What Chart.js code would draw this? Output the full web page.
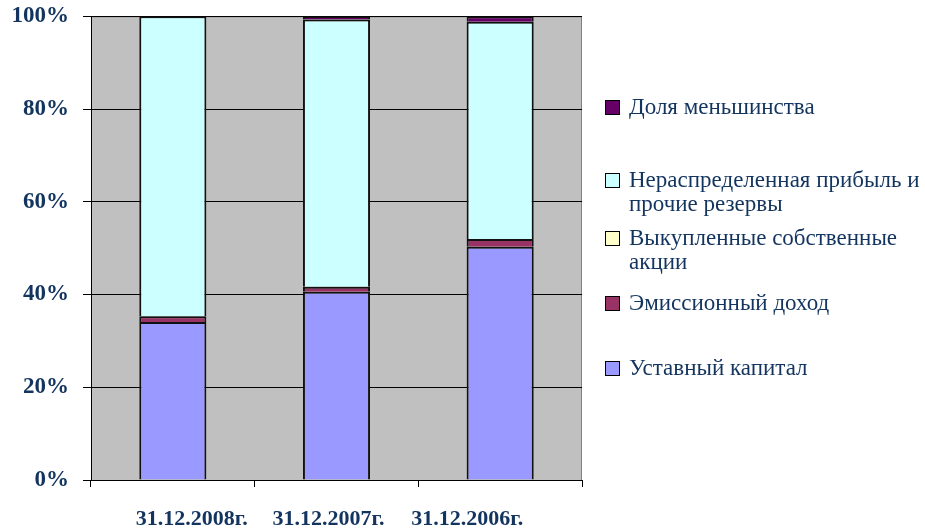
<!DOCTYPE html>
<html>
<head>
<meta charset="utf-8">
<script src="https://cdn.jsdelivr.net/npm/chart.js@4/dist/chart.umd.min.js"></script>
<style>
  body { margin: 0; background: #fff; }
  #wrap { position: relative; width: 925px; height: 529px; }
  #legend { position: absolute; left: 605px; top: 0; font-family: "Liberation Serif", serif; font-size: 23px; color: #12345e; }
  .item { position: absolute; left: 0; width: 320px; line-height: 24px; }
  .box { position: absolute; left: 0; top: 5px; width: 13px; height: 13px; border: 1px solid #000; }
  .txt { position: absolute; left: 24px; white-space: nowrap; }
</style>
</head>
<body>
<div id="wrap">
  <canvas id="c" width="925" height="529"></canvas>
  <div id="legend"></div>
</div>
<script>
// данные
const categories = ["31.12.2008г.", "31.12.2007г.", "31.12.2006г."];
const seriesNames = [
    "Уставный капитал",
    "Эмиссионный доход",
    ["Выкупленные собственные", "акции"],
    ["Нераспределенная прибыль и", "прочие резервы"],
    "Доля меньшинства"
];
const charterCapital = [34.1, 40.6, 50.3];
const sharePremium = [1.2, 1.1, 1.7];
const treasuryShares = [0, 0, 0];
const retainedEarnings = [64.7, 57.6, 46.8];
const minorityShare = [0, 0.7, 1.2];
const yTicks = [0, 20, 40, 60, 80, 100];

const colors = ["#9999FF", "#993366", "#FFFFCC", "#CCFFFF", "#660066"];
const values = [charterCapital, sharePremium, treasuryShares, retainedEarnings, minorityShare];
// позиции подписей легенды (сверху вниз)
const legendTops = [95, 168, 226, 291, 356];
// в оригинале подписи категорий сдвинуты относительно столбцов
const labelShift = [19, -8, -33];

const navy = "#12345e";
const font = "'Liberation Serif', 'Times New Roman', serif";

// серый фон области построения
const plotBg = {
    id: "plotBg",
    beforeDraw(chart) {
        const { ctx, chartArea: a } = chart;
        ctx.save();
        ctx.fillStyle = "#C0C0C0";
        ctx.fillRect(a.left, a.top, a.right - a.left, a.bottom - a.top);
        ctx.strokeStyle = "#808080";
        ctx.lineWidth = 1;
        ctx.strokeRect(a.left + 0.5, a.top + 0.5, a.right - a.left - 1, a.bottom - a.top);
        ctx.restore();
    }
};

// подписи категорий под осью X
const catLabels = {
    id: "catLabels",
    afterDraw(chart) {
        const { ctx, scales: { x } } = chart;
        ctx.save();
        ctx.fillStyle = navy;
        ctx.font = "bold 22px " + font;
        ctx.textAlign = "center";
        ctx.textBaseline = "alphabetic";
        categories.forEach((c, i) => {
            ctx.fillText(c, x.getPixelForValue(i) + labelShift[i], x.top + 45);
        });
        ctx.restore();
    }
};

const datasets = values.map((v, i) => ({
    label: Array.isArray(seriesNames[i]) ? seriesNames[i].join(" ") : seriesNames[i],
    data: v,
    backgroundColor: colors[i],
    borderColor: "#111",
    borderWidth: 2,
    borderSkipped: "start",
    barPercentage: 0.41,
    categoryPercentage: 1
}));

new Chart(document.getElementById("c"), {
    type: "bar",
    data: { labels: categories, datasets },
    plugins: [plotBg, catLabels],
    options: {
        responsive: false,
        animation: false,
        layout: { padding: { left: 0, right: 343, top: 0, bottom: 0 } },
        plugins: { legend: { display: false }, tooltip: { enabled: false } },
        scales: {
            x: {
                stacked: true,
                grid: { offset: true, drawOnChartArea: false, color: "#000", tickLength: 7 },
                border: { color: "#000" },
                ticks: { display: false },
                afterFit(s) { s.height = 49; }
            },
            y: {
                stacked: true,
                min: 0,
                max: 100,
                afterBuildTicks(s) { s.ticks = yTicks.map(v => ({ value: v })); },
                grid: { color: "#000", tickLength: 8 },
                border: { color: "#000" },
                ticks: {
                    color: navy,
                    font: { family: font, size: 23, weight: "bold", lineHeight: 0.2 },
                    padding: 14,
                    callback: v => v + "%"
                },
                afterFit(s) { s.width = 91; }
            }
        }
    }
});

// легенда справа, сверху вниз в обратном порядке
const legend = document.getElementById("legend");
for (let k = 0; k < seriesNames.length; k++) {
    const i = seriesNames.length - 1 - k;
    const item = document.createElement("div");
    item.className = "item";
    item.style.top = legendTops[k] + "px";
    const lines = Array.isArray(seriesNames[i]) ? seriesNames[i] : [seriesNames[i]];
    item.innerHTML = '<div class="box" style="background:' + colors[i] + '"></div>' +
        '<div class="txt">' + lines.join("<br>") + "</div>";
    legend.appendChild(item);
}
</script>
</body>
</html>
